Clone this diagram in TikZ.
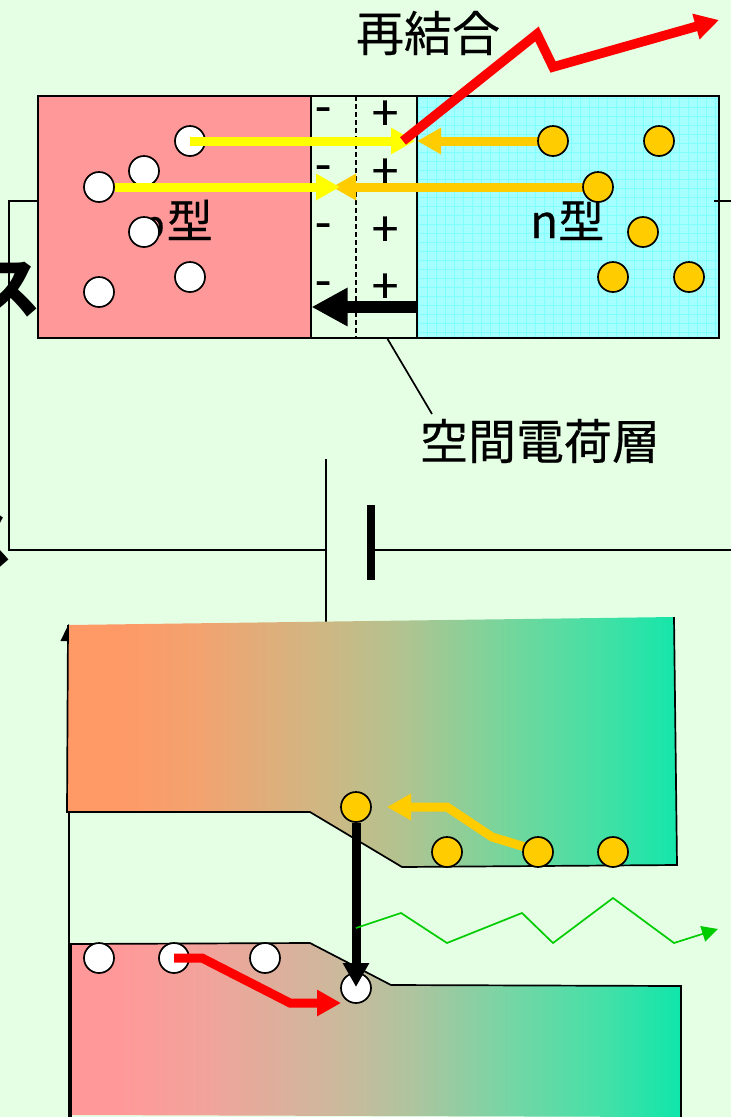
\documentclass[tikz,border=0pt]{standalone}
\usepackage{fontspec}
\setmainfont{Noto Sans CJK JP}
\newfontfamily\lblf{Noto Sans CJK JP}[FakeBold=0.35]
\usetikzlibrary{arrows.meta,calc}
\definecolor{bgc}{HTML}{E5FFE5}
\definecolor{pc}{HTML}{FF9999}
\definecolor{nc}{HTML}{A6FFFF}
\definecolor{gridc}{HTML}{80FFFF}
\definecolor{orc}{HTML}{FFCC00}
\definecolor{yel}{HTML}{FFFF00}
\definecolor{grn}{HTML}{00CC00}
\definecolor{ua}{HTML}{FF9966}
\definecolor{ub}{HTML}{F2A370}
\definecolor{uc}{HTML}{CBB985}
\definecolor{ud}{HTML}{AEC491}
\definecolor{ue}{HTML}{75D69C}
\definecolor{uf}{HTML}{42E0A5}
\definecolor{ug}{HTML}{14E6AA}
\definecolor{la}{HTML}{FF9999}
\definecolor{lb}{HTML}{F2A39B}
\definecolor{lc}{HTML}{CBB99C}
\definecolor{ld}{HTML}{AEC49F}
\definecolor{le}{HTML}{75D6A5}
\definecolor{lf}{HTML}{42E0A8}
\definecolor{lg}{HTML}{0FE6AA}
\pgfdeclarehorizontalshading{upband}{100bp}{color(0bp)=(ua);color(25bp)=(ua);color(29bp)=(ua);color(36bp)=(ub);color(47bp)=(uc);color(53bp)=(ud);color(61bp)=(ue);color(69bp)=(uf);color(75bp)=(ug);color(100bp)=(ug)}
\pgfdeclarehorizontalshading{lowband}{100bp}{color(0bp)=(la);color(25bp)=(la);color(29bp)=(la);color(36bp)=(lb);color(47bp)=(lc);color(53bp)=(ld);color(61bp)=(le);color(69bp)=(lf);color(75bp)=(lg);color(100bp)=(lg)}
\tikzset{
  x=1pt,y=-1pt,
  wire/.style={draw=black,line width=1.7pt},
  hole/.style={circle,draw=black,fill=white,line width=1.7pt,minimum size=30pt,inner sep=0pt},
  elec/.style={circle,draw=black,fill=orc,line width=1.7pt,minimum size=30pt,inner sep=0pt},
  lbl/.style={inner sep=0pt,font=\lblf\fontsize{46}{46}\selectfont},
  lblbig/.style={inner sep=0pt,font=\lblf\fontsize{48}{48}\selectfont},
  sign/.style={inner sep=0pt,font=\lblf\fontsize{48}{48}\selectfont},
  bigkana/.style={inner sep=0pt,font=\fontsize{68}{68}\selectfont\bfseries},
  fat/.style={line width=9pt,-{Triangle[length=24pt,width=25pt]}},
  huge arrow/.style={line width=12pt,-{Triangle[length=36pt,width=36pt]}},
  thin arrow/.style={line width=1.7pt,draw=grn,-{Triangle[length=16pt,width=16pt]}},
}
\begin{document}
\begin{tikzpicture}
\useasboundingbox (0,0) rectangle (731,1117);
\clip (0,0) rectangle (731,1117);
\fill[bgc] (0,0) rectangle (731,1117);
% upper device
\fill[pc] (38,96) rectangle (311,338);
\fill[nc] (417,96) rectangle (719,338);
\begin{scope}
\clip (417,96) rectangle (719,338);
\foreach \i in {0,...,34} \draw[gridc,line width=.6pt] ({418+\i*9},96) -- ({418+\i*9},338);
\foreach \i in {0,...,27} \draw[gridc,line width=.6pt] (417,{98+\i*9}) -- (719,{98+\i*9});
\end{scope}
\draw[line width=1.7pt] (38,96) rectangle (719,338);
\draw[line width=1.7pt] (311,96) -- (311,338) (417,96) -- (417,338);
\draw[line width=1.3pt,dashed,dash pattern=on 5pt off 3pt] (356,96) -- (356,338);
% labels
\node[lbl,anchor=base west] (ptype) at (141,238) {{\fontsize{38}{38}\selectfont p}\kern2pt 型};
\node[lbl,anchor=base west] (ntype) at (530,238) {n型};
\node[lblbig] (recomb) at (428,33) {再結合};
\node[lblbig] (scl) at (540,441) {空間電荷層};
\node[bigkana] (kanaA) at (7,290) {ス};
\node[bigkana] (kanaB) at (-20,541) {ス};
% signs
\foreach \n/\yy in {1/115,2/173,3/231,4/289} \node[sign] (m\n) at (323,\yy) {-};
\foreach \n/\yy in {1/115.5,2/173.5,3/231.5,4/288.5} \node[sign] (pl\n) at (385,\yy) {+};
% wires
\coordinate (wa) at (38,201);
\coordinate (wb) at (9,201);
\coordinate (wc) at (9,550);
\coordinate (wd) at (326,550);
\coordinate (we) at (326,459);
\coordinate (wf) at (326,622);
\coordinate (bt) at (371,505);
\coordinate (bb) at (371,580);
\coordinate (bm) at (371,550);
\coordinate (wg) at (731,550);
\coordinate (wh) at (714,201);
\coordinate (wi) at (731,201);
\coordinate (la) at (387,338);
\coordinate (lb) at (432,414);
\draw[wire] (wa) -- (wb) -- (wc) -- (wd);
\draw[wire] (we) -- (wf);
\draw[line width=8pt] (bt) -- (bb);
\draw[wire] (bm) -- (wg);
\draw[wire] (wh) -- (wi);
\draw[wire] (la) -- (lb);
% carriers top
\node[hole] (h1) at (190,141) {};
\node[hole] (h2) at (144,171) {};
\node[hole] (h3) at (99,187) {};
\node[hole] (h4) at (144,232) {};
\node[hole] (h5) at (190,277) {};
\node[hole] (h6) at (99,292) {};
\coordinate (t1) at (415,141);
\coordinate (t2) at (340,187);
\coordinate (t3) at (417,141);
\coordinate (t4) at (332,187);
\coordinate (s3) at (538,141);
\coordinate (s4) at (583,187);
\draw[fat,orc] (s3) -- (t3);
\draw[fat,orc] (s4) -- (t4);
\draw[fat,yel] (h1.center) -- (t1);
\draw[fat,yel] (h3.east) -- (t2);
\node[elec] (e1) at (553,141) {};
\node[elec] (e2) at (659,141) {};
\node[elec] (e3) at (598,187) {};
\node[elec] (e4) at (643,232) {};
\node[elec] (e5) at (613,277) {};
\node[elec] (e6) at (689,277) {};
% black field arrow
\coordinate (fa) at (417,307);
\coordinate (fb) at (311.5,307);
\draw[huge arrow] (fa) -- (fb);
% red
\coordinate (r0) at (403,141);
\coordinate (r1) at (537,34);
\coordinate (r2) at (553,67);
\coordinate (r3) at (719,20);
\draw[red,line width=9.5pt,-{Triangle[length=24pt,width=25pt]},line join=miter] (r0) -- (r1) -- (r2) -- (r3);
% band diagram
\coordinate (ax0) at (68.7,1117);
\coordinate (ax1) at (68.7,624);
\draw[line width=1.7pt,-{Triangle[length=17pt,width=16pt]}] (ax0) -- (ax1);
\shade[shading=upband] (68,625) -- (674,617) -- (677,865) -- (402,867) -- (310,812) -- (67,812) -- cycle;
\shade[shading=lowband] (71,944) -- (310,943) -- (391,985) -- (681,986) -- (681,1117) -- (71,1115) -- cycle;
\draw[wire] (68,625) -- (67,812) -- (310,812) -- (402,867) -- (677,865) -- (674,617);
\draw[wire] (71,1117) -- (71,944) -- (310,943) -- (391,985) -- (681,986) -- (681,1117);
% carriers bottom
\node[hole] (h7) at (99,958) {};
\node[hole] (h8) at (174,958) {};
\node[hole] (h9) at (265,958) {};
\node[hole] (h10) at (356,988) {};
\coordinate (o0) at (525,847);
\coordinate (o1) at (492,837);
\coordinate (o2) at (447,807);
\coordinate (o3) at (387,807);
\draw[fat,orc] (o0) -- (o1) -- (o2) -- (o3);
\node[elec] (e7) at (356,807) {};
\node[elec] (e8) at (447,852) {};
\node[elec] (e9) at (538,852) {};
\node[elec] (e10) at (613,852) {};
\coordinate (rb1) at (202,958);
\coordinate (rb2) at (290,1003);
\coordinate (rb3) at (341,1003);
\draw[fat,red] (h8.center) -- (rb1) -- (rb2) -- (rb3);
\coordinate (dn) at (356,987);
\draw[fat,black] (e7.south) -- (dn);
\coordinate (g0) at (356,928);
\coordinate (g1) at (401,913);
\coordinate (g2) at (447,943);
\coordinate (g3) at (522,913);
\coordinate (g4) at (553,943);
\coordinate (g5) at (613,898);
\coordinate (g6) at (674,943);
\coordinate (g7) at (718,929);
\draw[thin arrow] (g0) -- (g1) -- (g2) -- (g3) -- (g4) -- (g5) -- (g6) -- (g7);
\end{tikzpicture}
\end{document}
